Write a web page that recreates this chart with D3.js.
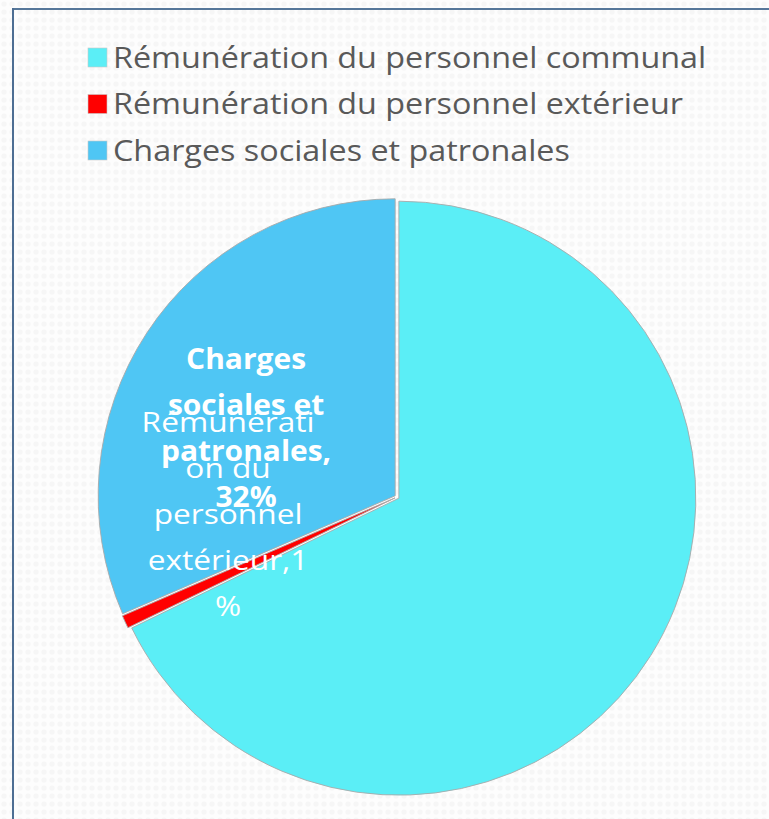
<!DOCTYPE html>
<html>
<head>
<meta charset="utf-8">
<script src="https://cdn.jsdelivr.net/npm/d3@7/dist/d3.min.js"></script>
<style>
  html, body { margin: 0; padding: 0; background: #fff; }
  svg { display: block; font-family: "Open Sans", sans-serif; }
</style>
</head>
<body>
<div id="chart"></div>
<script>
// categories and shares (percent of the personnel budget)
var categories = ["Rémunération du personnel communal",
                  "Rémunération du personnel extérieur",
                  "Charges sociales et patronales"];
var values = [67.8, 0.7, 31.5];
var colors = ["#5BEEF6", "#FF0000", "#4FC6F4"];
// data labels shown on the slices (Excel-style wrapped text)
var labelLines = [
    [],
    ["Rémunérati", "on du", "personnel", "extérieur,1", "%"],
    ["Charges", "sociales et", "patronales,", "32%"]
];

var width = 769,
    height = 819,
    cx = 397,
    cy = 497,
    radius = 297,
    explode = 2.2;

var svg = d3.select("#chart").append("svg")
    .attr("width", width)
    .attr("height", height);

// faint dotted background
var defs = svg.append("defs");
var pat = defs.append("pattern")
    .attr("id", "bgdots")
    .attr("width", 8).attr("height", 8)
    .attr("patternUnits", "userSpaceOnUse");
pat.append("rect").attr("width", 8).attr("height", 8).attr("fill", "#fdfdfd");
pat.append("circle").attr("cx", 4).attr("cy", 4).attr("r", 2.6).attr("fill", "#f6f6f6");

svg.append("rect")
    .attr("width", width).attr("height", height)
    .attr("fill", "url(#bgdots)");

// frame lines on top and left
svg.append("line")
    .attr("x1", 12).attr("y1", 9).attr("x2", width).attr("y2", 9)
    .attr("stroke", "#56779a").attr("stroke-width", 2);
svg.append("line")
    .attr("x1", 13).attr("y1", 8).attr("x2", 13).attr("y2", height)
    .attr("stroke", "#4d6e93").attr("stroke-width", 2);

// legend
var legend = svg.append("g").attr("class", "legend");
var legendItems = legend.selectAll("g")
    .data(categories)
    .enter().append("g")
    .attr("transform", function (d, i) { return "translate(88," + (48 + i * 46.5) + ")"; });

legendItems.append("rect")
    .attr("width", 19).attr("height", 19)
    .attr("fill", function (d, i) { return colors[i]; })
    .attr("stroke", "#c8c8c8").attr("stroke-width", 0.6);

legendItems.append("text")
    .attr("transform", "translate(25,19.5) scale(1.115,1)")
    .attr("font-size", 29)
    .attr("fill", "#595959")
    .text(function (d) { return d; });

// pie
var pie = d3.pie().sort(null).value(function (d) { return d; });
var arc = d3.arc().innerRadius(0).outerRadius(radius);
var arcs = pie(values);

var g = svg.append("g")
    .attr("transform", "translate(" + cx + "," + cy + ")");

g.selectAll("path")
    .data(arcs)
    .enter().append("path")
    .attr("transform", function (d) {
        var a = (d.startAngle + d.endAngle) / 2;
        return "translate(" + (Math.sin(a) * explode) + "," + (-Math.cos(a) * explode) + ")";
    })
    .attr("d", arc)
    .attr("fill", function (d, i) { return colors[i]; })
    .attr("stroke", "#a9a9a9")
    .attr("stroke-width", 0.9);

// data labels, placed like Excel left them (offset from centroid)
var labelArc = d3.arc().innerRadius(0).outerRadius(radius * 1.2);
var labelOffsets = [[0, 0], [-7, 0], [-2, 0]];
var labelStart = [0, 432, 369];

arcs.forEach(function (d, i) {
    if (!labelLines[i].length) return;
    var c = labelArc.centroid(d);
    var lx = cx + c[0] + labelOffsets[i][0];
    var lab = svg.append("g").attr("class", "pie-label");
    labelLines[i].forEach(function (line, j) {
        lab.append("text")
            .attr("transform", "translate(" + lx + "," + (labelStart[i] + j * 46) + ") scale(" + (i === 2 ? 1.07 : 1.13) + ",1)")
            .attr("text-anchor", "middle")
            .attr("font-size", 28)
            .attr("font-weight", i === 2 ? "bold" : "normal")
            .attr("fill", "#fff")
            .text(line);
    });
});
</script>
</body>
</html>
